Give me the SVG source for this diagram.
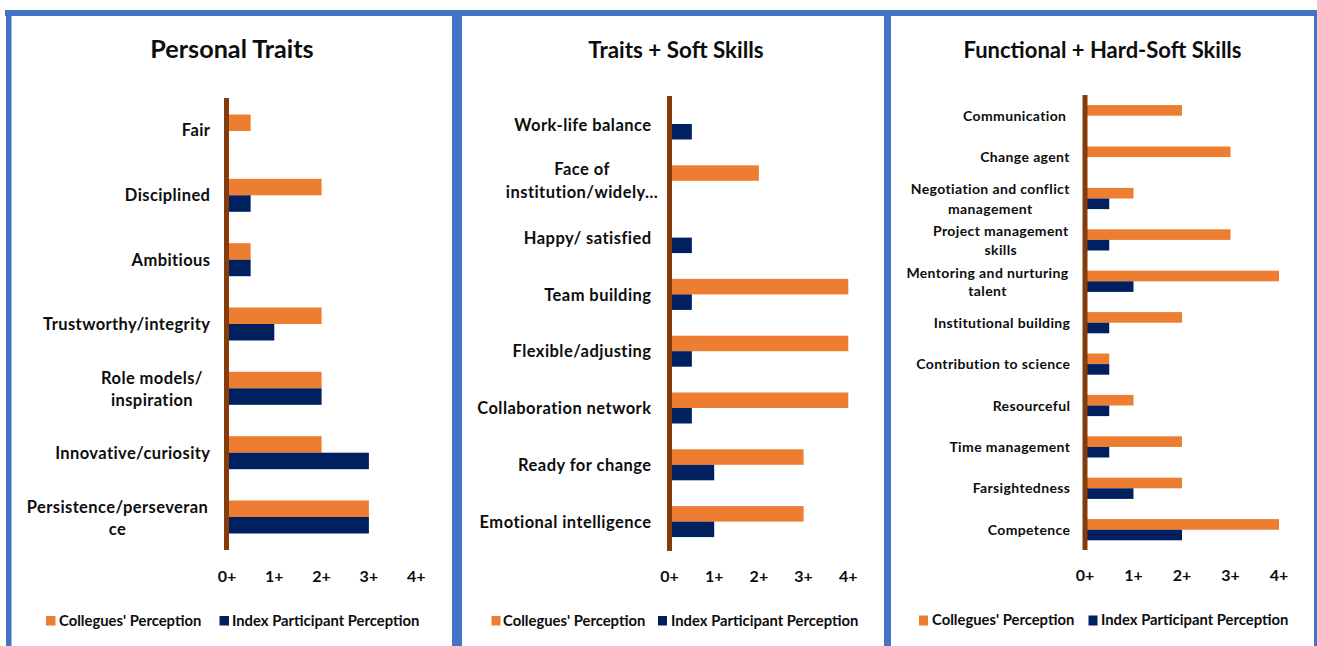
<svg xmlns="http://www.w3.org/2000/svg" width="1317" height="646" viewBox="0 0 1317 646">
<style>
text{font-family:Lato,"Liberation Sans",sans-serif;font-weight:bold;fill:#0d0d0d}
.t1{font-size:25.2px;text-anchor:middle}
.t2{font-size:22.4px;text-anchor:middle}
.t3{font-size:22px;text-anchor:middle}
.l1{font-size:16.5px;letter-spacing:0.4px;text-anchor:end}
.l2{font-size:16.5px;letter-spacing:0.45px;text-anchor:end}
.l3{font-size:14px;letter-spacing:0.38px;text-anchor:end}
.c1{font-size:16.5px;letter-spacing:0.4px;text-anchor:middle}
.c2{font-size:16.5px;letter-spacing:0.45px;text-anchor:middle}
.c3{font-size:14px;letter-spacing:0.38px;text-anchor:middle}
.tk{font-size:16px;text-anchor:middle}
.lg{font-size:14.8px}
.o{fill:#ED7D31}
.n{fill:#002060}
.ax{stroke:#843C0C;stroke-width:5}
.fr{fill:#4472C4}
</style>
<rect width="1317" height="646" fill="#fff"/>
<g id="frame">
<rect class="fr" x="5" y="10" width="1312" height="6"/>
<rect class="fr" x="6" y="10" width="5.5" height="636"/>
<rect class="fr" x="452" y="10" width="10" height="636"/>
<rect class="fr" x="884" y="10" width="7" height="636"/>
<rect class="fr" x="1314" y="10" width="3" height="636"/>
</g>
<g id="panel-personal-traits">
<text class="t1" x="232" y="58">Personal Traits</text>
<g id="p1-bars">
<rect class="o" x="227" y="114.5" width="23.65" height="16.5"/>
<rect class="o" x="227" y="178.8" width="94.6" height="16.5"/>
<rect class="n" x="227" y="195.3" width="23.65" height="16.5"/>
<rect class="o" x="227" y="243.2" width="23.65" height="16.5"/>
<rect class="n" x="227" y="259.7" width="23.65" height="16.5"/>
<rect class="o" x="227" y="307.5" width="94.6" height="16.5"/>
<rect class="n" x="227" y="324" width="47.3" height="16.5"/>
<rect class="o" x="227" y="371.8" width="94.6" height="16.5"/>
<rect class="n" x="227" y="388.3" width="94.6" height="16.5"/>
<rect class="o" x="227" y="436.2" width="94.6" height="16.5"/>
<rect class="n" x="227" y="452.7" width="141.9" height="16.5"/>
<rect class="o" x="227" y="500.5" width="141.9" height="16.5"/>
<rect class="n" x="227" y="517" width="141.9" height="16.5"/>
</g>
<line class="ax" x1="226.5" y1="98" x2="226.5" y2="550"/>
<g id="p1-labels">
<text class="l1" x="210.4" y="136">Fair</text>
<text class="l1" x="210.4" y="201">Disciplined</text>
<text class="l1" x="210.4" y="266">Ambitious</text>
<text class="l1" x="210.4" y="330">Trustworthy/integrity</text>
<text class="c1" x="152" y="384">Role models/</text>
<text class="c1" x="152" y="406">inspiration</text>
<text class="l1" x="210.4" y="459">Innovative/curiosity</text>
<text class="c1" x="117.5" y="513">Persistence/perseveran</text>
<text class="c1" x="117.5" y="535">ce</text>
</g>
<g id="p1-ticks">
<text class="tk" x="227" y="582">0+</text>
<text class="tk" x="274.3" y="582">1+</text>
<text class="tk" x="321.6" y="582">2+</text>
<text class="tk" x="368.9" y="582">3+</text>
<text class="tk" x="416.2" y="582">4+</text>
</g>
<g id="p1-legend">
<rect class="o" x="46" y="616" width="9.5" height="9.5"/>
<text class="lg" x="59" y="625.5">Collegues' Perception</text>
<rect class="n" x="219.5" y="616" width="9.5" height="9.5"/>
<text class="lg" x="232" y="625.5">Index Participant Perception</text>
</g>
</g>
<g id="panel-traits-soft-skills">
<text class="t2" x="676" y="58">Traits + Soft Skills</text>
<g id="p2-bars">
<rect class="n" x="669.5" y="124" width="22.35" height="15.5"/>
<rect class="o" x="669.5" y="165.3" width="89.4" height="15.5"/>
<rect class="n" x="669.5" y="237.6" width="22.35" height="15.5"/>
<rect class="o" x="669.5" y="278.9" width="178.8" height="15.5"/>
<rect class="n" x="669.5" y="294.4" width="22.35" height="15.5"/>
<rect class="o" x="669.5" y="335.7" width="178.8" height="15.5"/>
<rect class="n" x="669.5" y="351.2" width="22.35" height="15.5"/>
<rect class="o" x="669.5" y="392.5" width="178.8" height="15.5"/>
<rect class="n" x="669.5" y="408" width="22.35" height="15.5"/>
<rect class="o" x="669.5" y="449.3" width="134.1" height="15.5"/>
<rect class="n" x="669.5" y="464.8" width="44.7" height="15.5"/>
<rect class="o" x="669.5" y="506.1" width="134.1" height="15.5"/>
<rect class="n" x="669.5" y="521.6" width="44.7" height="15.5"/>
</g>
<line class="ax" x1="669.5" y1="96" x2="669.5" y2="551"/>
<g id="p2-labels">
<text class="l2" x="651.5" y="130.5">Work-life balance</text>
<text class="c2" x="582" y="175">Face of</text>
<text class="c2" x="582" y="198">institution/widely…</text>
<text class="l2" x="651.5" y="243.5">Happy/ satisfied</text>
<text class="l2" x="651.5" y="300.5">Team building</text>
<text class="l2" x="651.5" y="357">Flexible/adjusting</text>
<text class="l2" x="651.5" y="414">Collaboration network</text>
<text class="l2" x="651.5" y="470.5">Ready for change</text>
<text class="l2" x="651.5" y="528">Emotional intelligence</text>
</g>
<g id="p2-ticks">
<text class="tk" x="669.5" y="582">0+</text>
<text class="tk" x="714.2" y="582">1+</text>
<text class="tk" x="758.9" y="582">2+</text>
<text class="tk" x="803.6" y="582">3+</text>
<text class="tk" x="848.3" y="582">4+</text>
</g>
<g id="p2-legend">
<rect class="o" x="491.5" y="616" width="9" height="9.5"/>
<text class="lg" x="503" y="625.5">Collegues' Perception</text>
<rect class="n" x="658" y="616" width="9" height="9.5"/>
<text class="lg" x="671" y="625.5">Index Participant Perception</text>
</g>
</g>
<g id="panel-functional-skills">
<text class="t3" x="1102.5" y="58">Functional + Hard-Soft Skills</text>
<g id="p3-bars">
<rect class="o" x="1085" y="105.1" width="97" height="10.6"/>
<rect class="o" x="1085" y="146.5" width="145.5" height="10.6"/>
<rect class="o" x="1085" y="187.9" width="48.5" height="10.6"/>
<rect class="n" x="1085" y="198.5" width="24.25" height="10.6"/>
<rect class="o" x="1085" y="229.3" width="145.5" height="10.6"/>
<rect class="n" x="1085" y="239.9" width="24.25" height="10.6"/>
<rect class="o" x="1085" y="270.7" width="194" height="10.6"/>
<rect class="n" x="1085" y="281.3" width="48.5" height="10.6"/>
<rect class="o" x="1085" y="312.1" width="97" height="10.6"/>
<rect class="n" x="1085" y="322.7" width="24.25" height="10.6"/>
<rect class="o" x="1085" y="353.5" width="24.25" height="10.6"/>
<rect class="n" x="1085" y="364.1" width="24.25" height="10.6"/>
<rect class="o" x="1085" y="394.9" width="48.5" height="10.6"/>
<rect class="n" x="1085" y="405.5" width="24.25" height="10.6"/>
<rect class="o" x="1085" y="436.3" width="97" height="10.6"/>
<rect class="n" x="1085" y="446.9" width="24.25" height="10.6"/>
<rect class="o" x="1085" y="477.7" width="97" height="10.6"/>
<rect class="n" x="1085" y="488.3" width="48.5" height="10.6"/>
<rect class="o" x="1085" y="519.1" width="194" height="10.6"/>
<rect class="n" x="1085" y="529.7" width="97" height="10.6"/>
</g>
<line class="ax" x1="1085" y1="95" x2="1085" y2="550"/>
<g id="p3-labels">
<text class="l3" x="1066.4" y="121">Communication</text>
<text class="l3" x="1069.9" y="162">Change agent</text>
<text class="c3" x="990.3" y="194">Negotiation and conflict</text>
<text class="c3" x="990.3" y="214">management</text>
<text class="c3" x="1000.8" y="235.5">Project management</text>
<text class="c3" x="1000.8" y="255">skills</text>
<text class="c3" x="987.5" y="277.5">Mentoring and nurturing</text>
<text class="c3" x="987.5" y="296">talent</text>
<text class="l3" x="1070.4" y="328">Institutional building</text>
<text class="l3" x="1070.4" y="369">Contribution to science</text>
<text class="l3" x="1070.4" y="411">Resourceful</text>
<text class="l3" x="1070.4" y="452">Time management</text>
<text class="l3" x="1070.4" y="493">Farsightedness</text>
<text class="l3" x="1070.4" y="535">Competence</text>
</g>
<g id="p3-ticks">
<text class="tk" x="1085" y="581">0+</text>
<text class="tk" x="1133.5" y="581">1+</text>
<text class="tk" x="1182" y="581">2+</text>
<text class="tk" x="1230.5" y="581">3+</text>
<text class="tk" x="1279" y="581">4+</text>
</g>
<g id="p3-legend">
<rect class="o" x="919" y="615.5" width="9" height="10"/>
<text class="lg" x="932" y="625">Collegues' Perception</text>
<rect class="n" x="1088.5" y="615.5" width="9" height="10"/>
<text class="lg" x="1101" y="625">Index Participant Perception</text>
</g>
</g>
</svg>
